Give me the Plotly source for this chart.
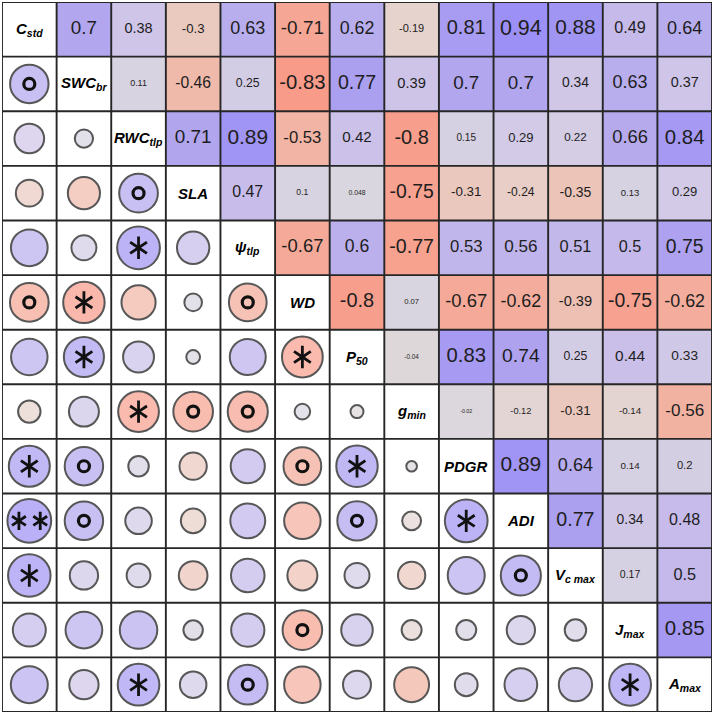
import numpy as np
import plotly.graph_objects as go

# ---------------- data ----------------
var_labels = [
    "C<sub>std</sub>", "SWC<sub>br</sub>", "RWC<sub>tlp</sub>", "SLA",
    "ψ<sub>tlp</sub>", "WD", "P<sub>50</sub>", "g<sub>min</sub>", "PDGR",
    "ADI", "V<sub>c max</sub>", "J<sub>max</sub>", "A<sub>max</sub>",
]

# upper-triangle correlations, row i lists r(i, j) for j > i
upper_rows = [
    [0.7, 0.38, -0.3, 0.63, -0.71, 0.62, -0.19, 0.81, 0.94, 0.88, 0.49, 0.64],
    [0.11, -0.46, 0.25, -0.83, 0.77, 0.39, 0.7, 0.7, 0.34, 0.63, 0.37],
    [0.71, 0.89, -0.53, 0.42, -0.8, 0.15, 0.29, 0.22, 0.66, 0.84],
    [0.47, 0.1, 0.048, -0.75, -0.31, -0.24, -0.35, 0.13, 0.29],
    [-0.67, 0.6, -0.77, 0.53, 0.56, 0.51, 0.5, 0.75],
    [-0.8, 0.07, -0.67, -0.62, -0.39, -0.75, -0.62],
    [-0.04, 0.83, 0.74, 0.25, 0.44, 0.33],
    [-0.02, -0.12, -0.31, -0.14, -0.56],
    [0.89, 0.64, 0.14, 0.2],
    [0.77, 0.34, 0.48],
    [0.17, 0.5],
    [0.85],
    [],
]

# significance markers in the lower triangle, row i lists cols j < i
sig_lower = [
    [],
    ["o"],
    ["", ""],
    ["", "", "o"],
    ["", "", "*", ""],
    ["o", "*", "", "", "o"],
    ["", "*", "", "", "", "*"],
    ["", "", "*", "o", "o", "", ""],
    ["*", "o", "", "", "", "o", "*", ""],
    ["**", "o", "", "", "", "", "o", "", "*"],
    ["*", "", "", "", "", "", "", "", "", "o"],
    ["", "", "", "", "", "o", "", "", "", "", ""],
    ["", "", "*", "", "o", "", "", "", "", "", "", "*"],
]

n = len(var_labels)
R = np.full((n, n), np.nan)
for i, row in enumerate(upper_rows):
    for k, v in enumerate(row):
        j = i + 1 + k
        R[i, j] = v
        R[j, i] = v

colorscale = [
    [0.0, "rgb(253,140,122)"],
    [0.145, "rgb(246,166,148)"],
    [0.27, "rgb(240,186,170)"],
    [0.405, "rgb(230,211,205)"],
    [0.5, "rgb(218,216,222)"],
    [0.69, "rgb(207,197,232)"],
    [0.85, "rgb(178,166,238)"],
    [1.0, "rgb(150,138,248)"],
]

fig = go.Figure()

# upper triangle heatmap
Zu = np.full((n, n), None, dtype=object)
for i in range(n):
    for j in range(i + 1, n):
        Zu[i, j] = R[i, j]
fig.add_trace(go.Heatmap(
    z=Zu.tolist(), x=list(range(n)), y=list(range(n)),
    colorscale=colorscale, zmin=-1, zmax=1, showscale=False,
    hoverinfo="skip",
))

# numbers in upper triangle
tx, ty, tt, ts = [], [], [], []
for i in range(n):
    for j in range(i + 1, n):
        r = R[i, j]
        tx.append(j); ty.append(i); tt.append(str(r))
        ts.append(2.5 + 19.5 * np.sqrt(abs(r)))
fig.add_trace(go.Scatter(
    x=tx, y=ty, text=tt, mode="text",
    textfont=dict(size=ts, color="#1e1e1e", family="Liberation Sans, Arial"),
    hoverinfo="skip",
))

# circles in lower triangle
cx, cy, cr, cs = [], [], [], []
for i in range(n):
    for j in range(i):
        r = R[i, j]
        cx.append(j); cy.append(i); cr.append(r)
        cs.append(5 + 40 * np.sqrt(abs(r)))
fig.add_trace(go.Scatter(
    x=cx, y=cy, mode="markers",
    marker=dict(size=cs, color=cr, colorscale=colorscale, cmin=-1, cmax=1,
                line=dict(color="#111111", width=2)),
    hoverinfo="skip",
))

# significance symbols
ox, oy, ax1, ay1, ax2, ay2 = [], [], [], [], [], []
for i, row in enumerate(sig_lower):
    for j, s in enumerate(row):
        if s == "o":
            ox.append(j); oy.append(i)
        elif s == "*":
            ax1.append(j); ay1.append(i)
        elif s == "**":
            ax2.extend([j - 0.19, j + 0.2]); ay2.extend([i, i])

fig.add_trace(go.Scatter(
    x=ox, y=oy, mode="markers",
    marker=dict(symbol="circle-open", size=11, color="#111111",
                line=dict(color="#111111", width=3.2)),
    hoverinfo="skip",
))
for xs, ys, sz in [(ax1, ay1, 14), (ax2, ay2, 11.5)]:
    for sym in ["y-up", "y-down"]:
        fig.add_trace(go.Scatter(
            x=xs, y=ys, mode="markers",
            marker=dict(symbol=sym, size=sz, color="#111111",
                        line=dict(color="#111111", width=2.8)),
            hoverinfo="skip",
        ))

# grid lines
gx, gy = [], []
for k in range(n + 1):
    b = k - 0.5
    gx += [b, b, None, -0.5, n - 0.5, None]
    gy += [-0.5, n - 0.5, None, b, b, None]
fig.add_trace(go.Scatter(
    x=gx, y=gy, mode="lines", line=dict(color="#262626", width=1.9),
    hoverinfo="skip",
))

# diagonal labels
for i, lab in enumerate(var_labels):
    fig.add_annotation(
        x=i, y=i, text="<b><i>" + lab + "</i></b>", showarrow=False,
        font=dict(size=15, color="#000000", family="Liberation Sans, Arial"),
        xanchor="center", yanchor="middle",
    )

fig.update_layout(
    width=714, height=715,
    margin=dict(l=2, r=2, t=2, b=3),
    paper_bgcolor="white", plot_bgcolor="white",
    showlegend=False,
    xaxis=dict(range=[-0.5, n - 0.5], showgrid=False, zeroline=False,
               showticklabels=False, ticks="", fixedrange=True),
    yaxis=dict(range=[n - 0.5, -0.5], showgrid=False, zeroline=False,
               showticklabels=False, ticks="", fixedrange=True),
)

fig.write_html("out.html")
